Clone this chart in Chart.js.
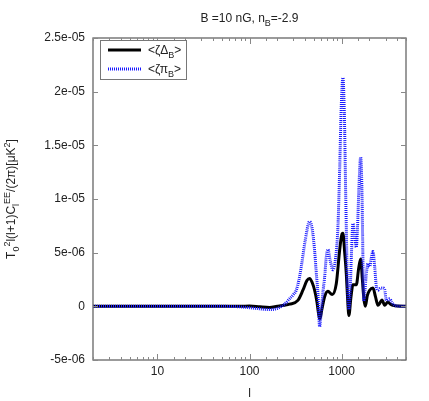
<!DOCTYPE html>
<html>
<head>
<meta charset="utf-8">
<script src="https://cdn.jsdelivr.net/npm/chart.js@4.4.1/dist/chart.umd.min.js"></script>
<style>
  html, body { margin: 0; padding: 0; background: #fff; }
</style>
</head>
<body>
<canvas id="eeChart" width="429" height="401"></canvas>
<script>
  // values in units of 1e-6
  const unit = 1e-6;

  const ellDelta = [2, 80, 100, 130, 165, 200, 240, 272, 335, 380, 420, 449, 480, 509, 540, 560, 580, 610,
    654, 710, 790, 875, 951, 1000, 1033, 1080, 1125, 1165, 1200, 1260, 1327, 1444, 1530, 1610, 1680,
    1750, 1810, 1900, 2015, 2190, 2330, 2480, 2600, 2740, 2930, 3180, 3400, 3610, 4000, 5000];
  const zetaDelta = [0, 0, 0.03, -0.05, -0.1, 0, 0.1, 0.2, 0.55, 1.5, 2.4, 2.6, 2.2, 1.5, 0.4, -0.6, -1.2, -0.3,
    0.9, 1.4, 1.1, 2.1, 5.2, 6.6, 6.8, 5.0, 3.0, 0.5, -0.85, 0.8, 2.0, 2.0, 3.5, 4.4, 2.5,
    0.6, 0.0, 1.0, 1.5, 1.7, 0.9, 0.1, 0.3, 0.6, 0.1, 0.4, 0.2, 0.1, 0.02, 0];

  const ellPi = [2, 50, 80, 120, 165, 200, 240, 272, 300, 322, 345, 365, 400, 449, 480, 509, 530, 553, 577,
    600, 630, 654, 680, 710, 750, 805, 860, 912, 951, 990, 1033, 1070, 1110, 1150, 1200, 1240, 1275,
    1327, 1390, 1444, 1490, 1540, 1610, 1660, 1700, 1735, 1790, 1856, 1932, 2015, 2100, 2190, 2280,
    2385, 2480, 2600, 2800, 2930, 3060, 3330, 3500, 3760, 4200, 5000];
  const zetaPi = [0, 0, -0.05, -0.2, -0.3, -0.2, 0.2, 0.7, 1.1, 1.5, 2.5, 3.7, 6.0, 7.9, 7.2, 5.2, 3.2, 1.2, -1.9,
    -0.5, 1.5, 2.7, 4.5, 5.3, 4.3, 3.4, 4.5, 7.4, 12.5, 18.5, 21.3, 18, 10, 3, -0.3, 1.5, 4.6,
    7.7, 6.5, 5.5, 7.5, 11, 13.9, 11, 5, 0.5, 1.5, 3.0, 4.0, 3.7, 4.5, 5.1, 3.8,
    1.8, 1.5, 1.65, 1.7, 1.6, 0.55, 0.7, 0.4, 0.1, 0.02, 0];

  const yMin = -5e-6, yMax = 2.5e-5, yStep = 5e-6;
  const yTickLabels = ['-5e-06', '0', '5e-06', '1e-05', '1.5e-05', '2e-05', '2.5e-05'];
  const xTickValues = [10, 100, 1000];
  const xTickLabels = ['10', '100', '1000'];

  const FONT = '"Liberation Sans", Arial, sans-serif';

  const toPoints = (xs, ys) => xs.map((x, i) => ({ x: x, y: ys[i] * unit }));

  // text with sub/superscripts: parts = [[text, 'sub'|'sup'|null], ...]
  function richWidth(ctx, parts, size) {
    let w = 0;
    parts.forEach(p => {
      ctx.font = (p[1] ? size * 0.75 : size) + 'px ' + FONT;
      w += ctx.measureText(p[0]).width;
    });
    return w;
  }
  function drawRich(ctx, parts, x, y, size) {
    ctx.textBaseline = 'alphabetic';
    ctx.textAlign = 'left';
    parts.forEach(p => {
      ctx.font = (p[1] ? size * 0.75 : size) + 'px ' + FONT;
      let dy = 0;
      if (p[1] === 'sub') dy = size * 0.3;
      if (p[1] === 'sup') dy = -size * 0.45;
      ctx.fillText(p[0], x, y + dy);
      x += ctx.measureText(p[0]).width;
    });
  }

  const extras = {
    id: 'extras',
    afterDraw(chart) {
      const ctx = chart.ctx;
      const a = chart.chartArea;
      const xs = chart.scales.x, ys = chart.scales.y;
      ctx.save();

      // frame
      ctx.strokeStyle = '#666';
      ctx.lineWidth = 1.3;
      ctx.strokeRect(a.left, a.top, a.right - a.left, a.bottom - a.top);

      // inward ticks
      ctx.lineWidth = 1;
      ctx.strokeStyle = '#888';
      ctx.beginPath();
      xs.ticks.forEach(t => {
        const lg = Math.log10(t.value);
        const major = Math.abs(lg - Math.round(lg)) < 1e-9;
        const len = major ? 6 : 3;
        const px = Math.round(xs.getPixelForValue(t.value)) + 0.5;
        ctx.moveTo(px, a.bottom); ctx.lineTo(px, a.bottom - len);
        ctx.moveTo(px, a.top); ctx.lineTo(px, a.top + len);
      });
      ys.ticks.forEach(t => {
        const py = Math.round(ys.getPixelForValue(t.value)) + 0.5;
        ctx.moveTo(a.left, py); ctx.lineTo(a.left + 5, py);
        ctx.moveTo(a.right, py); ctx.lineTo(a.right - 5, py);
      });
      ctx.stroke();

      ctx.fillStyle = '#222';
      // title
      const title = [['B =10 nG, n', null], ['B', 'sub'], ['=-2.9', null]];
      const cx = (a.left + a.right) / 2;
      drawRich(ctx, title, cx - richWidth(ctx, title, 12) / 2, 22, 12);

      // x title
      ctx.font = '12px ' + FONT;
      ctx.textAlign = 'center';
      ctx.fillText('l', cx, 397);

      // y title
      const yt = [['T', null], ['0', 'sub'], ['2', 'sup'], ['l(l+1)C', null], ['l', 'sub'], ['EE', 'sup'],
        ['/(2\u03c0)[\u03bcK', null], ['2', 'sup'], [']', null]];
      ctx.save();
      ctx.translate(15, (a.top + a.bottom) / 2);
      ctx.rotate(-Math.PI / 2);
      drawRich(ctx, yt, -richWidth(ctx, yt, 12) / 2, 0, 12);
      ctx.restore();

      // legend
      ctx.fillStyle = '#fff';
      ctx.fillRect(100, 40, 86, 39);
      ctx.strokeStyle = '#777';
      ctx.lineWidth = 1;
      ctx.strokeRect(100.5, 40.5, 86, 39);
      ctx.lineWidth = 3;
      ctx.strokeStyle = '#000';
      ctx.beginPath(); ctx.moveTo(108, 50); ctx.lineTo(141, 50); ctx.stroke();
      ctx.strokeStyle = '#1a1aff';
      ctx.setLineDash([1, 1]);
      ctx.beginPath(); ctx.moveTo(108, 69); ctx.lineTo(141, 69); ctx.stroke();
      ctx.setLineDash([]);
      ctx.fillStyle = '#222';
      drawRich(ctx, [['<\u03b6\u0394', null], ['B', 'sub'], ['>', null]], 148, 54, 12);
      drawRich(ctx, [['<\u03b6\u03c0', null], ['B', 'sub'], ['>', null]], 148, 73, 12);

      ctx.restore();
    }
  };

  const config = {
    type: 'scatter',
    data: {
      datasets: [{
        label: '<ζΔB>',
        data: toPoints(ellDelta, zetaDelta),
        showLine: true,
        borderColor: '#000',
        borderWidth: 3,
        pointRadius: 0,
        cubicInterpolationMode: 'monotone',
        order: 2
      }, {
        label: '<ζπB>',
        data: toPoints(ellPi, zetaPi),
        showLine: true,
        borderColor: '#1a1aff',
        borderWidth: 3,
        borderDash: [1, 1],
        pointRadius: 0,
        cubicInterpolationMode: 'monotone',
        order: 1
      }]
    },
    options: {
      responsive: false,
      animation: false,
      devicePixelRatio: 1,
      layout: { padding: { top: 38, right: 23, left: 0, bottom: 0 } },
      plugins: {
        legend: { display: false },
        tooltip: { enabled: false }
      },
      scales: {
        x: {
          type: 'logarithmic',
          min: 2,
          max: 5000,
          grid: { display: false, drawTicks: false },
          border: { display: false },
          afterFit: (s) => { s.height = 41; },
          ticks: {
            autoSkip: false,
            maxRotation: 0,
            padding: 4,
            color: '#222',
            font: { family: FONT, size: 12 },
            callback: (v) => {
              const i = xTickValues.indexOf(v);
              return i >= 0 ? xTickLabels[i] : '';
            }
          }
        },
        y: {
          min: yMin,
          max: yMax,
          grid: { display: false, drawTicks: false },
          border: { display: false },
          afterFit: (s) => { s.width = 93; },
          ticks: {
            stepSize: yStep,
            padding: 8,
            color: '#222',
            font: { family: FONT, size: 12 },
            callback: (v) => yTickLabels[Math.round((v - yMin) / yStep)]
          }
        }
      }
    },
    plugins: [extras]
  };

  const eeChart = new Chart(document.getElementById('eeChart'), config);
</script>
</body>
</html>
